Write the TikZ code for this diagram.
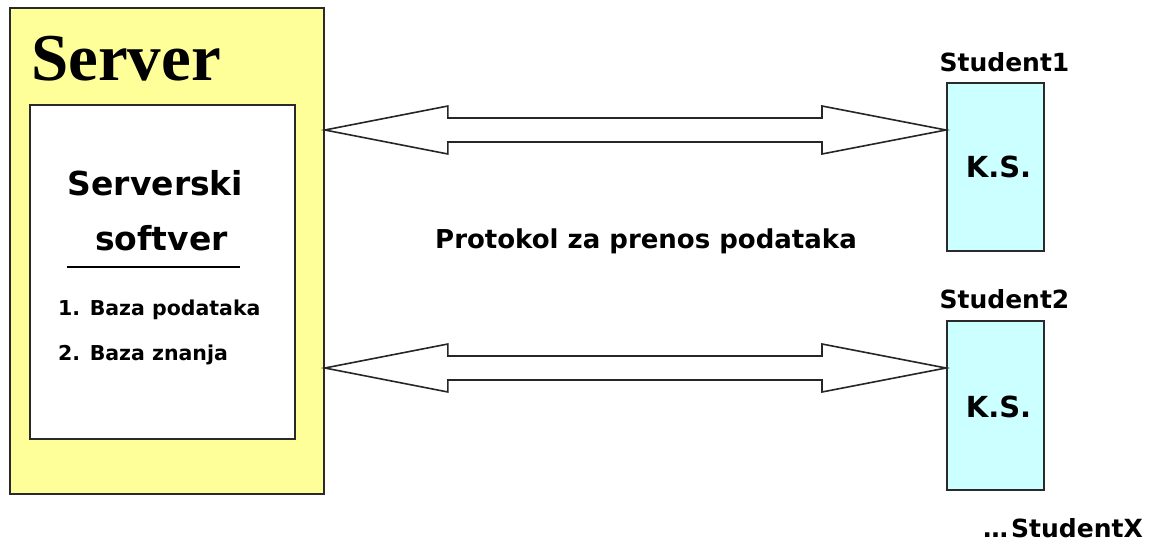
\documentclass[tikz,border=0pt]{standalone}
\usepackage{fontspec}
\setmainfont{Liberation Serif}
\newfontfamily\sansbold{DejaVu Sans}
\usetikzlibrary{calc}
\definecolor{srvyellow}{HTML}{FFFF99}
\definecolor{kscyan}{HTML}{CCFFFF}
\definecolor{edgegray}{HTML}{2A2A2A}
\newcommand\dblblockarrow[2]{%
  \draw[blockarrow] (#1) -- ($(#1)+(123,-24)$) -- ($(#1)+(123,-12)$)
    -- ($(#2)+(-124,-12)$) -- ($(#2)+(-124,-24)$) -- (#2)
    -- ($(#2)+(-124,24)$) -- ($(#2)+(-124,12)$)
    -- ($(#1)+(123,12)$) -- ($(#1)+(123,24)$) -- cycle;}
\begin{document}
\begin{tikzpicture}[x=1pt,y=-1pt,
  box/.style={draw=edgegray,line width=1.9pt,inner sep=0pt,anchor=north west},
  lbl/.style={inner sep=0pt},
  blockarrow/.style={draw=black!85,line width=1.6pt,fill=white,line join=miter}]
\useasboundingbox (0,0) rectangle (1153,544);
% server
\node[box,fill=srvyellow,minimum width=314pt,minimum height=486pt] (server) at (9,7) {};
\node[box,fill=white,minimum width=265pt,minimum height=334pt] (soft) at (29,104) {};
\node[lbl,anchor=base west,font=\bfseries\fontsize{67}{67}\selectfont] (title) at (31,80) {Server};
\node[lbl,anchor=base,font=\sansbold\bfseries\fontsize{33}{33}\selectfont] (sw1) at (155.5,195) {Serverski};
\node[lbl,anchor=base,font=\sansbold\bfseries\fontsize{33}{33}\selectfont] (sw2) at (161.5,250) {softver};
\coordinate (ulA) at (67,267);
\coordinate (ulB) at (240,267);
\draw[line width=1.5pt] (ulA) -- (ulB);
\node[lbl,anchor=base west,font=\sansbold\bfseries\fontsize{20.5}{20.5}\selectfont] (it1) at (58,315) {1. Baza podataka};
\node[lbl,anchor=base west,font=\sansbold\bfseries\fontsize{20.5}{20.5}\selectfont] (it2) at (58,360) {2. Baza znanja};
% students
\node[box,fill=kscyan,minimum width=97pt,minimum height=168pt] (s1) at (946,82) {};
\node[box,fill=kscyan,minimum width=97pt,minimum height=169pt] (s2) at (946,320) {};
\node[lbl,anchor=base,font=\sansbold\bfseries\fontsize{29}{29}\selectfont] (ks1) at (998.5,177) {K.S.};
\node[lbl,anchor=base,font=\sansbold\bfseries\fontsize{29}{29}\selectfont] (ks2) at (998.5,417) {K.S.};
\node[lbl,anchor=base,font=\sansbold\bfseries\fontsize{25}{25}\selectfont] (st1) at (1004.5,71) {Student1};
\node[lbl,anchor=base,font=\sansbold\bfseries\fontsize{25}{25}\selectfont] (st2) at (1004.5,308) {Student2};
\node[lbl,anchor=base east,font=\sansbold\bfseries\fontsize{25}{25}\selectfont] (stx) at (1143,537) {…\kern3pt StudentX};
\node[lbl,anchor=base,font=\sansbold\bfseries\fontsize{26}{26}\selectfont] (proto) at (646,248) {Protokol za prenos podataka};
% arrows
\coordinate (y1) at (0,130);
\coordinate (y2) at (0,368);
\coordinate (a1l) at (server.east |- y1);
\coordinate (a1r) at (s1.west |- y1);
\coordinate (a2l) at (server.east |- y2);
\coordinate (a2r) at (s2.west |- y2);
\dblblockarrow{a1l}{a1r}
\dblblockarrow{a2l}{a2r}
\end{tikzpicture}
\end{document}
